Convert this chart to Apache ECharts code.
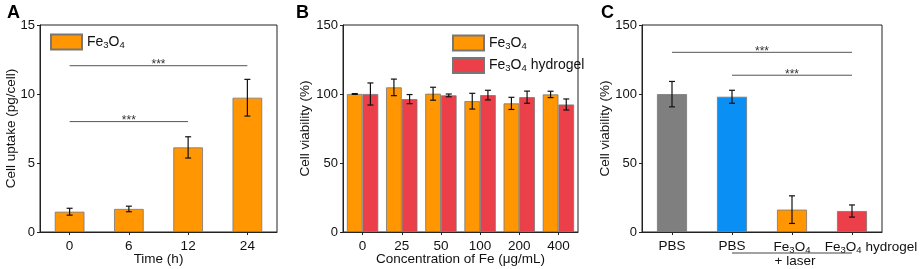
<!DOCTYPE html>
<html>
<head>
<meta charset="utf-8">
<script src="https://cdn.jsdelivr.net/npm/echarts@6/dist/echarts.min.js"></script>
<style>
  html, body { margin: 0; padding: 0; background: #fff; }
  #main { width: 920px; height: 269px; }
</style>
</head>
<body>
<div id="main"></div>
<script>
// panel A: uptake over time
const timeCats = ['0', '6', '12', '24']
const uptakeMean = [1.47, 1.67, 6.13, 9.73]
const uptakeErr = [0.25, 0.2, 0.77, 1.33]
const sigA = [[0, 2, 8.0], [0, 3, 12.05]]

// panel B: viability vs concentration
const concCats = ['0', '25', '50', '100', '200', '400']
const viabFe = [100, 104.8, 100.2, 94.8, 93.2, 99.7]
const viabFeErr = [0.3, 6, 4.7, 5.7, 4.4, 2.3]
const viabGel = [100, 96.3, 99, 99.2, 97.7, 92.4]
const viabGelErr = [8, 3.3, 1, 3.5, 4.4, 4]

// panel C: + laser
const groupCats = ['PBS', 'PBS', 'Fe3O4', 'Fe3O4 hydrogel']
const laserMean = [99.9, 98, 16.2, 15.2]
const laserErr = [9.2, 4.7, 10, 4.4]
const sigC = [[1, 3, 113.6], [0, 3, 130.2]]

const FONT = 'Liberation Sans, Arial, sans-serif'
const ORANGE = '#FF9602'
const RED = '#EB3F4A'
const GRAY = '#7F7F7F'
const BLUE = '#0A8FF5'
const AXIS = '#222'

function subStyle(pad) {
  return { fontSize: 9.5, fontFamily: FONT, color: '#111', verticalAlign: 'bottom', lineHeight: 16, padding: [pad, 0, 0, 0] }
}

function chem(txt) {
  return txt.replace('Fe3O4', 'Fe{s|3}O{s|4}')
}

function gridAxes(idx, cats, max, interval, yName, yGap, xName) {
  return {
    x: {
      type: 'category', gridIndex: idx,
      data: cats.map((c, i) => String(i)),
      name: xName, nameLocation: 'middle', nameGap: 20, nameMoveOverlap: false,
      nameTextStyle: { fontFamily: FONT, fontSize: 13.5, color: '#111', verticalAlign: 'top' },
      axisLine: { lineStyle: { color: AXIS, width: 1 } },
      axisTick: { show: true, alignWithLabel: true, length: 3, lineStyle: { color: AXIS } },
      axisLabel: {
        margin: 7, fontFamily: FONT, fontSize: 13.5, color: '#111', interval: 0,
        // long last label in C sits shifted right, as in the figure
        formatter: v => (cats[+v] === 'Fe3O4 hydrogel' ? '{sp| }' : '') + chem(cats[+v]),
        rich: { s: subStyle(6), sp: { width: 38 } }
      }
    },
    y: {
      type: 'value', gridIndex: idx, min: 0, max: max, interval: interval,
      name: yName, nameLocation: 'middle', nameGap: yGap, nameMoveOverlap: false,
      nameTextStyle: { fontFamily: FONT, fontSize: 13.5, color: '#111' },
      splitLine: { show: false },
      axisLine: { show: true, lineStyle: { color: AXIS, width: 1 } },
      axisTick: { show: true, length: 3, lineStyle: { color: AXIS } },
      axisLabel: { margin: 5, fontFamily: FONT, fontSize: 13, color: '#111' }
    }
  }
}

function errSeries(axis, means, errs, frac) {
  return {
    type: 'custom', xAxisIndex: axis, yAxisIndex: axis, silent: true, z: 10,
    data: means.map((m, i) => [i, m, errs[i]]),
    renderItem: (params, api) => {
      const band = api.size([1, 0])[0]
      const i = api.value(0)
      const x = api.coord([i, 0])[0] + band * frac
      const hi = api.coord([i, api.value(1) + api.value(2)])[1]
      const lo = api.coord([i, api.value(1) - api.value(2)])[1]
      const st = { stroke: '#111', lineWidth: 1.2 }
      return {
        type: 'group', children: [
          { type: 'line', shape: { x1: x, y1: hi, x2: x, y2: lo }, style: st },
          { type: 'line', shape: { x1: x - 3, y1: hi, x2: x + 3, y2: hi }, style: st },
          { type: 'line', shape: { x1: x - 3, y1: lo, x2: x + 3, y2: lo }, style: st }
        ]
      }
    }
  }
}

function sigSeries(axis, sig) {
  return {
    type: 'custom', xAxisIndex: axis, yAxisIndex: axis, silent: true, z: 10,
    data: sig,
    renderItem: (params, api) => {
      const a = api.coord([api.value(0), api.value(2)])
      const b = api.coord([api.value(1), api.value(2)])
      return {
        type: 'group', children: [
          { type: 'line', shape: { x1: a[0], y1: a[1], x2: b[0], y2: b[1] }, style: { stroke: '#555', lineWidth: 1 } },
          { type: 'text', style: { text: '***', x: (a[0] + b[0]) / 2, y: a[1] - 1, align: 'center', verticalAlign: 'middle', fontSize: 12, fontFamily: FONT, fill: '#333' } }
        ]
      }
    }
  }
}

const A = gridAxes(0, timeCats, 15, 5, 'Cell uptake (pg/cell)', 22, 'Time (h)')
const B = gridAxes(1, concCats, 150, 50, 'Cell viability (%)', 31, 'Concentration of Fe (μg/mL)')
const C = gridAxes(2, groupCats, 150, 50, 'Cell viability (%)', 30, '')

const barBorder = { borderColor: '#777', borderWidth: 0.8 }
const legendText = { fontFamily: FONT, fontSize: 14, color: '#111', rich: { s: subStyle(7) } }
const gridBase = { top: 25, bottom: 37, show: true, borderColor: AXIS, borderWidth: 1, containLabel: false, outerBoundsMode: 'none' }

const option = {
  animation: false,
  backgroundColor: '#fff',
  title: [
    { text: 'A', left: 2, top: -1, textStyle: { fontFamily: FONT, fontSize: 18, fontWeight: 'bold', color: '#000' } },
    { text: 'B', left: 291, top: -1, textStyle: { fontFamily: FONT, fontSize: 18, fontWeight: 'bold', color: '#000' } },
    { text: 'C', left: 596, top: -1, textStyle: { fontFamily: FONT, fontSize: 18, fontWeight: 'bold', color: '#000' } }
  ],
  legend: [
    {
      data: ['Fe3O4'], left: 45, top: 28, icon: 'rect', itemWidth: 31, itemHeight: 15, itemGap: 5,
      orient: 'vertical', formatter: chem, textStyle: legendText, selectedMode: false
    },
    {
      data: ['Fe3O4', 'Fe3O4 hydrogel'], left: 447, top: 29, icon: 'rect', itemWidth: 31, itemHeight: 15, itemGap: 5,
      orient: 'vertical', formatter: chem, textStyle: legendText, selectedMode: false
    }
  ],
  grid: [
    Object.assign({ left: 40, right: 643 }, gridBase),
    Object.assign({ left: 343, right: 342 }, gridBase),
    Object.assign({ left: 642, right: 38 }, gridBase)
  ],
  xAxis: [A.x, B.x, C.x],
  yAxis: [A.y, B.y, C.y],
  series: [
    { name: 'Fe3O4', type: 'bar', xAxisIndex: 0, yAxisIndex: 0, barWidth: '50%', data: uptakeMean, itemStyle: Object.assign({ color: ORANGE }, barBorder) },
    errSeries(0, uptakeMean, uptakeErr, 0),
    sigSeries(0, sigA),

    { name: 'Fe3O4', type: 'bar', xAxisIndex: 1, yAxisIndex: 1, barWidth: '40%', barGap: '0%', data: viabFe, itemStyle: Object.assign({ color: ORANGE }, barBorder) },
    { name: 'Fe3O4 hydrogel', type: 'bar', xAxisIndex: 1, yAxisIndex: 1, barWidth: '40%', barGap: '0%', data: viabGel, itemStyle: Object.assign({ color: RED }, barBorder) },
    errSeries(1, viabFe, viabFeErr, -0.2),
    errSeries(1, viabGel, viabGelErr, 0.2),

    {
      type: 'bar', xAxisIndex: 2, yAxisIndex: 2, barWidth: '50%',
      data: laserMean.map((v, i) => ({ value: v, itemStyle: { color: [GRAY, BLUE, ORANGE, RED][i] } })),
      itemStyle: barBorder
    },
    errSeries(2, laserMean, laserErr, 0),
    sigSeries(2, sigC),
    {
      // "+ laser" bracket under the last three groups
      type: 'custom', xAxisIndex: 2, yAxisIndex: 2, silent: true, clip: false,
      data: [[1, 3, 2]],
      renderItem: (params, api) => {
        const base = api.coord([0, 0])[1]
        const x1 = api.coord([api.value(0), 0])[0]
        const x2 = api.coord([api.value(1), 0])[0]
        const xm = api.coord([api.value(2), 0])[0]
        return {
          type: 'group', children: [
            { type: 'line', shape: { x1: x1, y1: base + 21, x2: x2, y2: base + 21 }, style: { stroke: '#444', lineWidth: 1 } },
            { type: 'text', style: { text: '+ laser', x: xm + 3, y: base + 22, align: 'center', verticalAlign: 'top', fontSize: 13.5, fontFamily: FONT, fill: '#111' } }
          ]
        }
      }
    }
  ]
}

const chart = echarts.init(document.getElementById('main'))
chart.setOption(option)
</script>
</body>
</html>
